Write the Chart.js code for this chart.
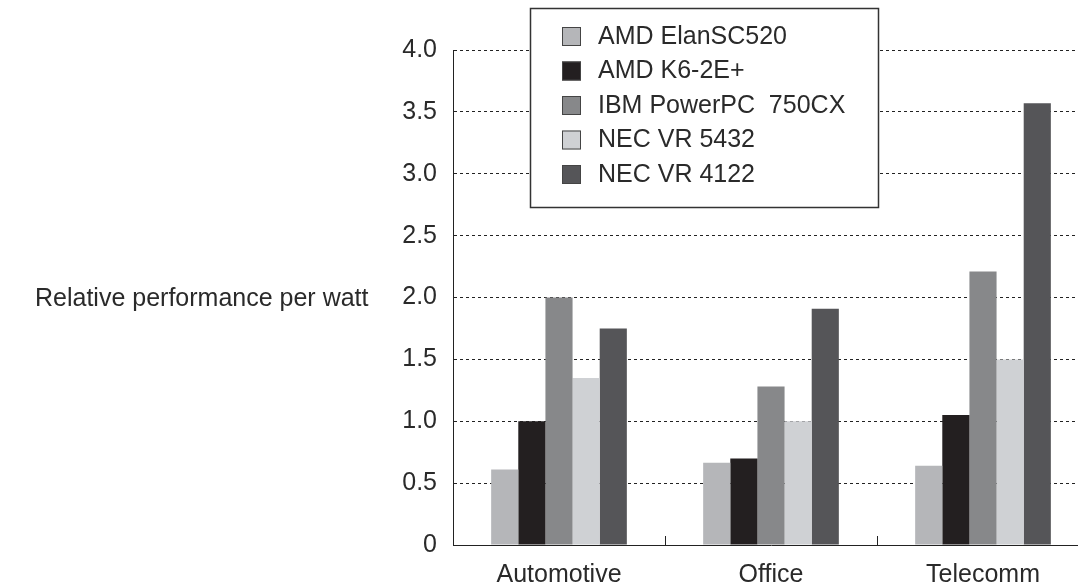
<!DOCTYPE html>
<html>
<head>
<meta charset="utf-8">
<script src="https://cdn.jsdelivr.net/npm/chart.js@4/dist/chart.umd.min.js"></script>
<style>
  html, body { margin: 0; padding: 0; background: #fff; overflow: hidden; }
  #wrap { position: relative; width: 1090px; height: 582px; }
</style>
</head>
<body>
<div id="wrap"><canvas id="chart"></canvas></div>
<script>
// data
var categories = ['Automotive', 'Office', 'Telecomm'];
var seriesNames = ['AMD ElanSC520', 'AMD K6-2E+', 'IBM PowerPC  750CX', 'NEC VR 5432', 'NEC VR 4122'];
var elanSC520 = [0.61, 0.665, 0.64];
var k62E = [1.0, 0.70, 1.05];
var powerPC750 = [2.0, 1.28, 2.21];
var vr5432 = [1.35, 1.0, 1.50];
var vr4122 = [1.75, 1.91, 3.57];
var yTicks = [0, 0.5, 1.0, 1.5, 2.0, 2.5, 3.0, 3.5, 4.0];
var yTitle = 'Relative performance per watt';

var colors = ['#b5b6b9', '#231f20', '#87888a', '#cfd1d4', '#555558'];
var font = "'Liberation Sans', Arial, sans-serif";
var textColor = '#2a2a2a';

var seriesData = [elanSC520, k62E, powerPC750, vr5432, vr4122];
var datasets = seriesData.map(function (d, i) {
    return {
        label: seriesNames[i],
        data: d,
        backgroundColor: colors[i],
        borderWidth: 0,
        categoryPercentage: 0.64,
        barPercentage: 1.0
    };
});

// horizontal y title, category ticks and the boxed legend
var extras = {
    id: 'extras',
    afterDatasetsDraw: function (chart) {
        var ctx = chart.ctx, x = chart.scales.x, area = chart.chartArea;
        ctx.save();
        ctx.strokeStyle = '#222';
        ctx.lineWidth = 1;
        for (var i = 1; i < categories.length; i++) {
            var px = Math.round((x.getPixelForTick(i - 1) + x.getPixelForTick(i)) / 2) + 0.5;
            ctx.beginPath();
            ctx.moveTo(px, area.bottom);
            ctx.lineTo(px, area.bottom - 9);
            ctx.stroke();
        }
        ctx.restore();
    },
    afterDraw: function (chart) {
        var ctx = chart.ctx, area = chart.chartArea;
        ctx.save();
        ctx.font = '25px ' + font;
        ctx.fillStyle = textColor;
        ctx.textAlign = 'left';
        ctx.textBaseline = 'middle';
        ctx.fillText(yTitle, 35, (area.top + area.bottom) / 2 + 2);

        // legend box
        ctx.fillStyle = '#fff';
        ctx.fillRect(530, 8, 349, 200);
        ctx.strokeStyle = '#333';
        ctx.lineWidth = 1.5;
        ctx.strokeRect(530.5, 8.5, 348, 199);
        chart.data.datasets.forEach(function (ds, i) {
            var cy = 36 + i * 34.5;
            ctx.fillStyle = ds.backgroundColor;
            ctx.fillRect(562, cy - 9, 19, 19);
            ctx.strokeStyle = '#444';
            ctx.lineWidth = 1;
            ctx.strokeRect(562.5, cy - 8.5, 18, 18);
            ctx.fillStyle = textColor;
            ctx.fillText(ds.label, 598, cy + 1);
        });
        ctx.restore();
    }
};

new Chart(document.getElementById('chart').getContext('2d'), {
    type: 'bar',
    data: { labels: categories, datasets: datasets },
    options: {
        responsive: true,
        maintainAspectRatio: false,
        animation: false,
        layout: { padding: { top: 50, right: 1, bottom: 0, left: 0 } },
        plugins: { legend: { display: false }, tooltip: { enabled: false } },
        scales: {
            x: {
                grid: { display: false },
                border: { display: true, color: '#222', width: 1 },
                ticks: { color: textColor, font: { family: font, size: 25 }, padding: 7 },
                afterFit: function (s) { s.height = 37; }
            },
            y: {
                min: 0,
                max: 4,
                afterBuildTicks: function (s) {
                    s.ticks = yTicks.map(function (v) { return { value: v }; });
                },
                grid: { color: '#222', lineWidth: 1, drawTicks: false },
                border: { display: true, color: '#222', width: 1, dash: [3, 3] },
                ticks: {
                    color: textColor,
                    font: { family: font, size: 25 },
                    padding: 16,
                    callback: function (v) { return v === 0 ? '0' : v.toFixed(1); }
                },
                afterFit: function (s) { s.width = 453; }
            }
        }
    },
    plugins: [extras]
});
</script>
</body>
</html>
